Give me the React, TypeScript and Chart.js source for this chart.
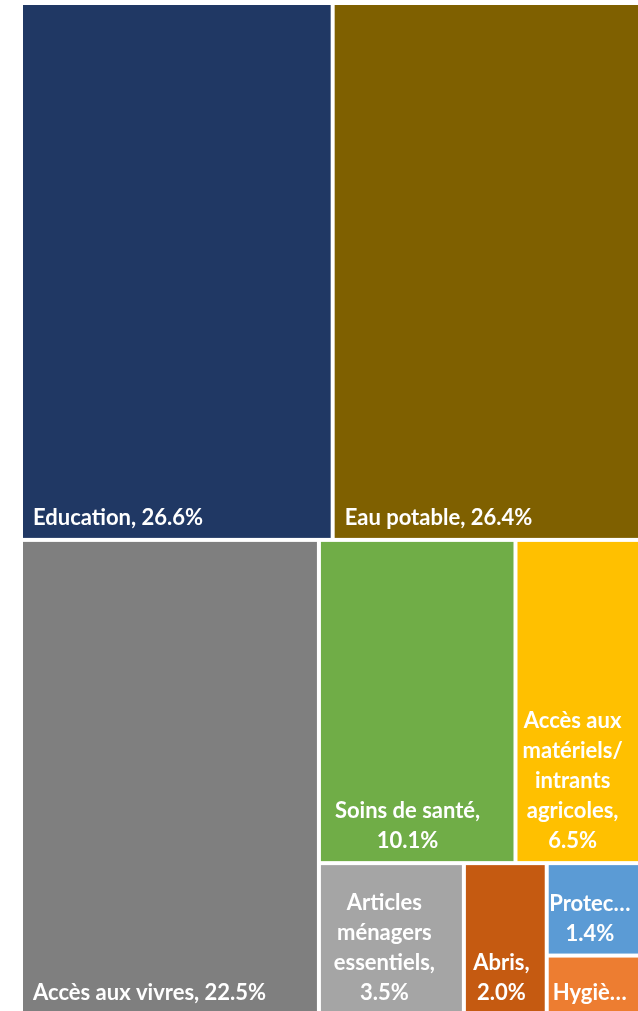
import React, { useEffect, useRef } from 'react';
import { Chart, registerables } from 'chart.js';

Chart.register(...registerables);

// ---- data ----
const categories = [
  'Education',
  'Eau potable',
  'Accès aux vivres',
  'Soins de santé',
  'Accès aux matériels/intrants agricoles',
  'Articles ménagers essentiels',
  'Abris',
  'Protection',
  'Hygiène',
];
const shares = [26.6, 26.4, 22.5, 10.1, 6.5, 3.5, 2.0, 1.4, 0.9];
const colors = [
  '#203864',
  '#7F6000',
  '#7F7F7F',
  '#70AD47',
  '#FFC000',
  '#A5A5A5',
  '#C55A11',
  '#5B9BD5',
  '#ED7D31',
];

// arrangement of the cells (indices into the arrays above); sizes come from shares
type TNode = number | { dir: 'row' | 'col'; children: TNode[] };
const arrangement: TNode = {
  dir: 'col',
  children: [
    { dir: 'row', children: [0, 1] },
    {
      dir: 'row',
      children: [
        2,
        {
          dir: 'col',
          children: [
            { dir: 'row', children: [3, 4] },
            { dir: 'row', children: [5, 6, { dir: 'col', children: [7, 8] }] },
          ],
        },
      ],
    },
  ],
};

// ---- layout ----
type Rect = { i: number; x0: number; y0: number; x1: number; y1: number };
const nodeSum = (n: TNode): number =>
  typeof n === 'number' ? shares[n] : n.children.reduce((s, c) => s + nodeSum(c), 0);

function layout(n: TNode, x0: number, y0: number, x1: number, y1: number, out: Rect[]) {
  if (typeof n === 'number') {
    out.push({ i: n, x0, y0, x1, y1 });
    return;
  }
  const total = nodeSum(n);
  let acc = 0;
  n.children.forEach((c) => {
    const f0 = acc / total;
    acc += nodeSum(c);
    const f1 = acc / total;
    if (n.dir === 'row') layout(c, x0 + (x1 - x0) * f0, y0, x0 + (x1 - x0) * f1, y1, out);
    else layout(c, x0, y0 + (y1 - y0) * f0, x1, y0 + (y1 - y0) * f1, out);
  });
}

const FONT = 'bold 22px Lato';
const LINE_H = 30;
const GAP = 2;
const HPAD = 4;

function wrapLabel(ctx: CanvasRenderingContext2D, text: string, avail: number): string[] {
  // tokens: break at spaces and after '/'
  const tokens: { t: string; sp: boolean }[] = [];
  text.split(' ').forEach((word, wi) => {
    const parts = word.split(/(?<=\/)/);
    parts.forEach((p, pi) => tokens.push({ t: p, sp: wi > 0 && pi === 0 }));
  });
  const fit = (s: string) => {
    if (ctx.measureText(s).width <= avail) return s;
    let k = s.length;
    while (k > 1 && ctx.measureText(s.slice(0, k) + '…').width > avail) k--;
    return s.slice(0, k) + '…';
  };
  const lines: string[] = [];
  let cur = '';
  tokens.forEach((tok) => {
    if (cur === '') {
      cur = tok.t;
      return;
    }
    const cand = cur + (tok.sp ? ' ' : '') + tok.t;
    if (ctx.measureText(cand).width <= avail) cur = cand;
    else {
      lines.push(fit(cur));
      cur = tok.t;
    }
  });
  if (cur) lines.push(fit(cur));
  return lines;
}

const treemapPlugin = {
  id: 'treemapCells',
  afterDatasetsDraw(chart: any) {
    const { ctx, scales } = chart;
    const xs = scales.x;
    const ys = scales.y;
    const rects: Rect[] = [];
    layout(arrangement, 0, 0, 1, 1, rects);
    ctx.save();
    rects.forEach((r) => {
      const px0 = xs.getPixelForValue(r.x0) + GAP;
      const px1 = xs.getPixelForValue(r.x1) - GAP;
      const py0 = ys.getPixelForValue(r.y0) + GAP;
      const py1 = ys.getPixelForValue(r.y1) - GAP;
      const w = px1 - px0;
      const h = py1 - py0;
      ctx.fillStyle = colors[r.i];
      ctx.fillRect(px0, py0, w, h);

      ctx.save();
      ctx.beginPath();
      ctx.rect(px0, py0, w, h);
      ctx.clip();
      ctx.font = FONT;
      ctx.fillStyle = '#FFFFFF';
      ctx.textBaseline = 'middle';
      const label = `${categories[r.i]}, ${shares[r.i].toFixed(1)}%`;
      const avail = w - 2 * HPAD;
      let lines = wrapLabel(ctx, label, avail);
      const maxLines = Math.max(1, Math.floor((h - 8) / LINE_H));
      if (lines.length > maxLines) lines = lines.slice(0, maxLines);
      const lastY = py1 - 20;
      if (lines.length === 1 && ctx.measureText(lines[0]).width <= w - 20) {
        ctx.textAlign = 'left';
        ctx.fillText(lines[0], px0 + 10, lastY);
      } else {
        ctx.textAlign = 'center';
        const cx = px0 + w / 2 - 0.05 * w;
        lines.forEach((ln, k) => {
          ctx.fillText(ln, cx, lastY - (lines.length - 1 - k) * LINE_H);
        });
      }
      ctx.restore();
    });
    ctx.restore();
  },
};

export default function App() {
  const ref = useRef<HTMLCanvasElement | null>(null);
  useEffect(() => {
    if (!ref.current) return;
    const chart = new Chart(ref.current, {
      type: 'scatter',
      data: { datasets: [{ data: [] }] },
      options: {
        animation: false,
        responsive: false,
        layout: { padding: { left: 21, top: 3, right: 0, bottom: 0 } },
        scales: {
          x: { type: 'linear', min: 0, max: 1, display: false },
          y: { type: 'linear', min: 0, max: 1, reverse: true, display: false },
        },
        plugins: { legend: { display: false }, tooltip: { enabled: false } },
      },
      plugins: [treemapPlugin],
    } as any);
    return () => chart.destroy();
  }, []);
  return (
    <div style={{ position: 'fixed', left: 0, top: 0, width: 642, height: 1015, background: '#fff' }}>
      <canvas ref={ref} width={642} height={1015} style={{ display: 'block' }} />
    </div>
  );
}
